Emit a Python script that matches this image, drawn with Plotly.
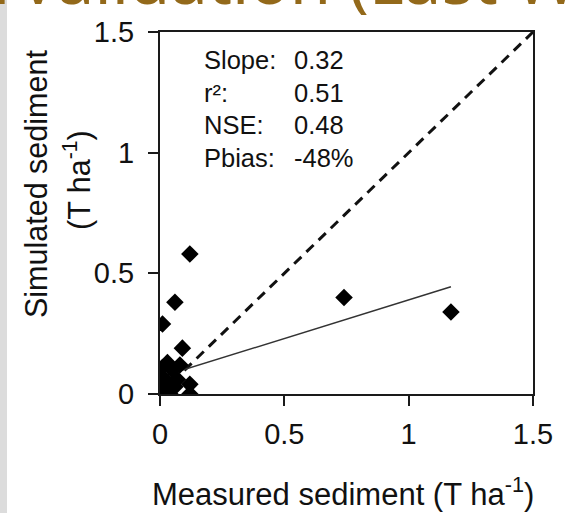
import plotly.graph_objects as go

# Data
measured = [0.12, 0.06, 0.01, 0.09, 0.74, 1.17, 0.12, 0.12,
            0.00, 0.00, 0.01, 0.01, 0.03, 0.05, 0.03, 0.06, 0.08, 0.02, 0.07, 0.04]
simulated = [0.58, 0.38, 0.29, 0.19, 0.40, 0.34, 0.04, 0.00,
             0.00, 0.03, 0.07, 0.11, 0.13, 0.10, 0.05, 0.03, 0.12, 0.01, 0.06, 0.00]
fit_slope = 0.32
fit_intercept = 0.07
fit_x = [0.0, 1.17]
one_to_one = [0.0, 1.5]
stat_labels = ["Slope:", "r²:", "NSE:", "Pbias:"]
stat_values = ["0.32", "0.51", "0.48", "-48%"]
x_ticks = [0, 0.5, 1, 1.5]
y_ticks = [0, 0.5, 1, 1.5]

FONT = "Liberation Sans, Arial, sans-serif"
W, H = 581, 513
L, R, T, B = 160, 48, 32, 119
pw, ph = W - L - R, H - T - B

def px_x(px):
    return (px - L) / pw

def px_y(py):
    return 1 - (py - T) / ph

fig = go.Figure()

fig.add_trace(go.Scatter(x=one_to_one, y=one_to_one, mode="lines",
                         line=dict(color="#111", width=3, dash="10px,7px"),
                         hoverinfo="skip"))
fig.add_trace(go.Scatter(x=fit_x, y=[fit_intercept + fit_slope * v for v in fit_x],
                         mode="lines", line=dict(color="#333", width=1.5),
                         hoverinfo="skip"))
fig.add_trace(go.Scatter(x=measured, y=simulated, mode="markers",
                         marker=dict(symbol="diamond", size=13.5, color="#000",
                                     line=dict(width=0))))

axis_common = dict(showgrid=False, zeroline=False, showline=True, linecolor="#1a1a1a",
                   linewidth=2, mirror=True, ticks="outside", ticklen=10, tickwidth=1.5,
                   tickcolor="#1a1a1a", tickfont=dict(family=FONT, size=29, color="#111"),
                   range=[0, 1.5])

fig.update_layout(
    width=W, height=H,
    margin=dict(l=L, r=R, t=T, b=B),
    paper_bgcolor="white", plot_bgcolor="white",
    showlegend=False,
    xaxis=dict(**axis_common, tickvals=x_ticks, ticktext=[f"{v:g}" for v in x_ticks],
               ticklabelstandoff=3),
    yaxis=dict(**axis_common, tickvals=y_ticks, ticktext=[f"{v:g}" for v in y_ticks],
               ticklabelstandoff=8),
)

# left gray strip
fig.add_shape(type="rect", xref="paper", yref="paper",
              x0=px_x(0), x1=px_x(7), y0=px_y(H + 5), y1=px_y(-5),
              fillcolor="#dcdcdc", line=dict(width=0), layer="below")

# title fragment at the top (cut off by the page edge)
title_font = dict(family="Noto Sans, sans-serif", size=67, color="#93691a")
fig.add_annotation(xref="paper", yref="paper", x=px_x(-9), y=px_y(26),
                   xanchor="left", yanchor="bottom", showarrow=False,
                   text="l", font=title_font)
fig.add_annotation(xref="paper", yref="paper", x=px_x(16), y=px_y(26),
                   xanchor="left", yanchor="bottom", showarrow=False,
                   text="Validation (Last W", font=title_font)

# stats
row_y = [58, 91, 123, 156]
for lab, val, py in zip(stat_labels, stat_values, row_y):
    fig.add_annotation(xref="paper", yref="paper", x=px_x(202), y=px_y(py + 2),
                       xanchor="left", yanchor="middle", showarrow=False, text=lab,
                       font=dict(family=FONT, size=25.5, color="#111"))
    fig.add_annotation(xref="paper", yref="paper", x=px_x(292), y=px_y(py + 2),
                       xanchor="left", yanchor="middle", showarrow=False, text=val,
                       font=dict(family=FONT, size=25.5, color="#111"))

# axis titles
fig.add_annotation(xref="paper", yref="paper", x=px_x(343), y=px_y(492),
                   xanchor="center", yanchor="middle", showarrow=False,
                   text="Measured sediment (T ha<sup>-1</sup>)",
                   font=dict(family=FONT, size=31, color="#111"))
fig.add_annotation(xref="paper", yref="paper", x=px_x(36), y=px_y(184),
                   xanchor="center", yanchor="middle", showarrow=False, textangle=-90,
                   text="Simulated sediment",
                   font=dict(family=FONT, size=30.5, color="#111"))
fig.add_annotation(xref="paper", yref="paper", x=px_x(77), y=px_y(180),
                   xanchor="center", yanchor="middle", showarrow=False, textangle=-90,
                   text="(T ha<sup>-1</sup>)",
                   font=dict(family=FONT, size=30.5, color="#111"))

fig.write_html("out.html")
